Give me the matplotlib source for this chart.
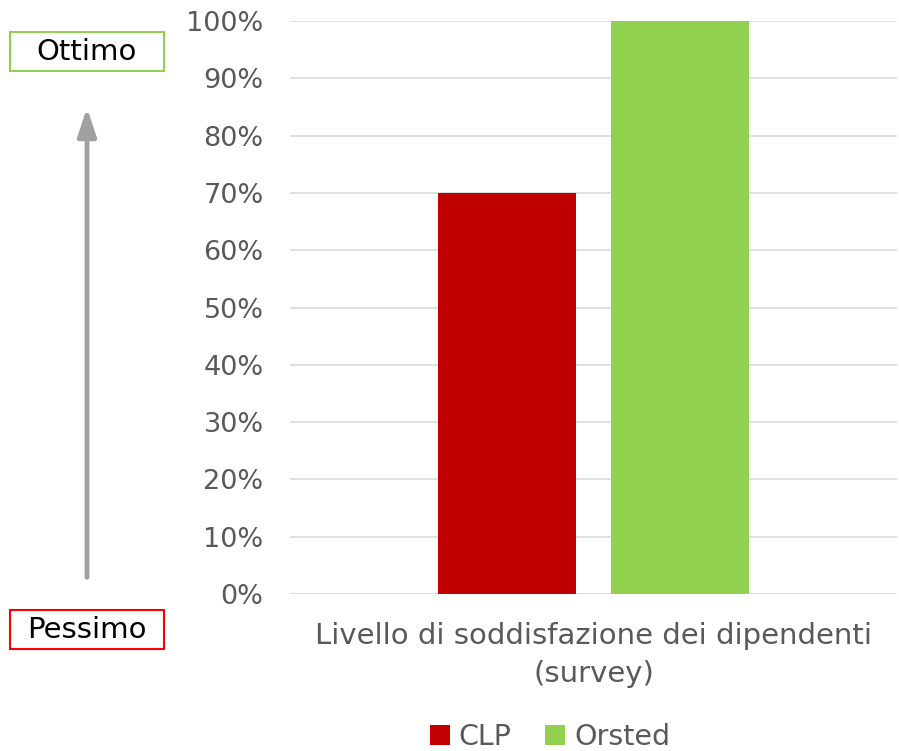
import matplotlib
matplotlib.use("Agg")
import matplotlib.pyplot as plt
import matplotlib.patches as patches
from matplotlib.ticker import PercentFormatter

category = "Livello di soddisfazione dei dipendenti\n(survey)"
series = ["CLP", "Orsted"]
values = [0.70, 1.00]
colors = ["#c00000", "#92d050"]
yticks = [i / 10 for i in range(11)]

W, H = 899, 751
fig = plt.figure(figsize=(W / 100, H / 100), dpi=100)
ax = fig.add_axes([290 / W, 1 - 594 / H, 607 / W, (594 - 21) / H])

offsets = [-0.1425, 0.1425]
for name, v, c, off in zip(series, values, colors, offsets):
    ax.bar(off, v, width=0.227, color=c, label=name, zorder=3)

ax.set_xlim(-0.5, 0.5)
ax.set_ylim(0, 1)
ax.set_yticks(yticks)
ax.yaxis.set_major_formatter(PercentFormatter(1.0, decimals=0))
ax.set_xticks([0])
ax.set_xticklabels([category], fontsize=21, linespacing=1.45)
ax.tick_params(axis="both", length=0, colors="#595959")
ax.tick_params(axis="y", labelsize=19.5, pad=19)
ax.tick_params(axis="x", pad=20)
ax.grid(axis="y", color="#d9d9d9", linewidth=1.2, zorder=0)
for s in ax.spines.values():
    s.set_visible(False)

fig.legend(loc="center", bbox_to_anchor=(550 / W, 1 - 737 / H), ncol=2,
           frameon=False, fontsize=20.5, handlelength=0.7, handleheight=0.7,
           handletextpad=0.3, columnspacing=1.2, labelcolor="#595959")

# side labels
def side_box(y0, y1, text, edge):
    fig.add_artist(patches.Rectangle((10 / W, 1 - y1 / H), 154 / W, (y1 - y0) / H,
                                     transform=fig.transFigure, fill=False,
                                     edgecolor=edge, linewidth=1.5))
    fig.text(87 / W, 1 - (y0 + y1) / 2 / H, text, ha="center", va="center",
             fontsize=21, color="black")

side_box(32, 71, "Ottimo", "#92d050")
side_box(610, 649, "Pessimo", "#ff0000")

fig.add_artist(patches.FancyArrowPatch((87 / W, 1 - 580 / H), (87 / W, 1 - 105 / H),
                                       transform=fig.transFigure,
                                       arrowstyle="-|>,head_length=1.2,head_width=0.4",
                                       mutation_scale=14, color="#a0a0a0", linewidth=3.5))

fig.savefig("out.png", dpi=100)
